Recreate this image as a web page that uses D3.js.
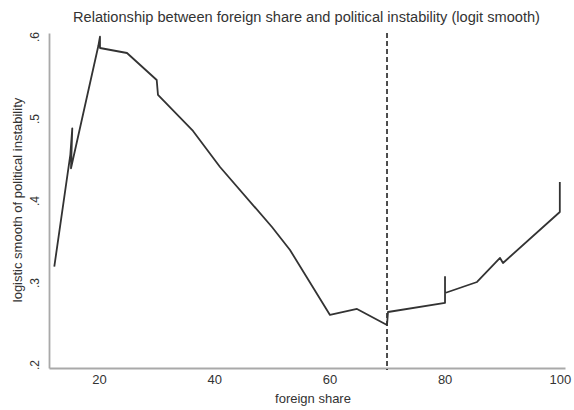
<!DOCTYPE html>
<html>
<head>
<meta charset="utf-8">
<script src="https://cdn.jsdelivr.net/npm/d3@7"></script>
<style>
  html, body { margin: 0; padding: 0; background: #fff; }
  svg { display: block; }
  text { font-family: "Liberation Sans", Arial, sans-serif; fill: #333; }
</style>
</head>
<body>
<svg id="chart" width="574" height="410"></svg>
<script>
const titleText = "Relationship between foreign share and political instability (logit smooth)";
const xLabel = "foreign share";
const yLabel = "logistic smooth of political instability";
const foreignShare = [12.24, 15.02, 15.36, 15.14, 19.88, 20.17, 20.17, 24.86, 30.02, 30.24, 36.32, 41.01, 50.03, 53.16, 60.10, 64.79, 70.0, 70.17, 80.07, 80.07, 80.07, 85.63, 89.62, 90.14, 100.0, 100.0];
const smoothValues = [0.3193, 0.4555, 0.4880, 0.4393, 0.5884, 0.5998, 0.5860, 0.5799, 0.5470, 0.5287, 0.4848, 0.4409, 0.3677, 0.3396, 0.2604, 0.2677, 0.2482, 0.2640, 0.2750, 0.3067, 0.2872, 0.3006, 0.3299, 0.3238, 0.3860, 0.4226];
const xTicks = [20, 40, 60, 80, 100];
const yTicks = [0.2, 0.3, 0.4, 0.5, 0.6];
const cutoff = 70;

const svg = d3.select("#chart");
const x = d3.scaleLinear().domain([11.32, 100.9]).range([49, 565]);
const y = d3.scaleLinear().domain([0.1957, 0.6043]).range([368, 33]);

const axisColor = "#a9a9a9";

// Y axis
const gy = svg.append("g").attr("transform", "translate(49,0)")
  .call(d3.axisLeft(y).tickValues(yTicks).tickSize(0).tickSizeOuter(0)
    .tickFormat(d => d3.format(".1f")(d).replace(/^0/, "")));
gy.select(".domain").attr("stroke", axisColor).attr("stroke-width", 1.8);
gy.selectAll("text")
  .attr("transform", "rotate(-90)")
  .attr("x", 0).attr("y", -10).attr("dy", 0)
  .attr("text-anchor", "middle")
  .style("font-size", "12px").style("fill", "#333");

// X axis
const gx = svg.append("g").attr("transform", "translate(0,368)")
  .call(d3.axisBottom(x).tickValues(xTicks).tickSize(0).tickSizeOuter(0));
gx.select(".domain").attr("stroke", axisColor).attr("stroke-width", 1.8);
gx.selectAll("text").attr("y", 7).attr("dy", "0.71em")
  .style("font-size", "13px").style("fill", "#333");

// Cutoff dashed line
svg.append("line")
  .attr("x1", x(cutoff)).attr("x2", x(cutoff))
  .attr("y1", y.range()[1]).attr("y2", y.range()[0] + 2)
  .attr("stroke", "#222").attr("stroke-width", 1.6)
  .attr("stroke-dasharray", "5,3");

// Smooth line
const pts = foreignShare.map((v, i) => [v, smoothValues[i]]);
svg.append("path")
  .datum(pts)
  .attr("fill", "none")
  .attr("stroke", "#333")
  .attr("stroke-width", 1.8)
  .attr("stroke-linejoin", "round")
  .attr("d", d3.line().x(d => x(d[0])).y(d => y(d[1])));

// Title
const t = svg.append("text")
  .attr("x", 306.5).attr("y", 22)
  .attr("text-anchor", "middle")
  .style("font-size", "13px")
  .text(titleText);
const tw = t.node().getComputedTextLength();
if (tw > 0) t.style("font-size", (13 * 467 / tw).toFixed(2) + "px");

// Axis titles
svg.append("text")
  .attr("x", 313).attr("y", 403)
  .attr("text-anchor", "middle")
  .style("font-size", "13px")
  .text(xLabel);

svg.append("text")
  .attr("transform", "translate(22,200) rotate(-90)")
  .attr("text-anchor", "middle")
  .style("font-size", "13px")
  .text(yLabel);
</script>
</body>
</html>
